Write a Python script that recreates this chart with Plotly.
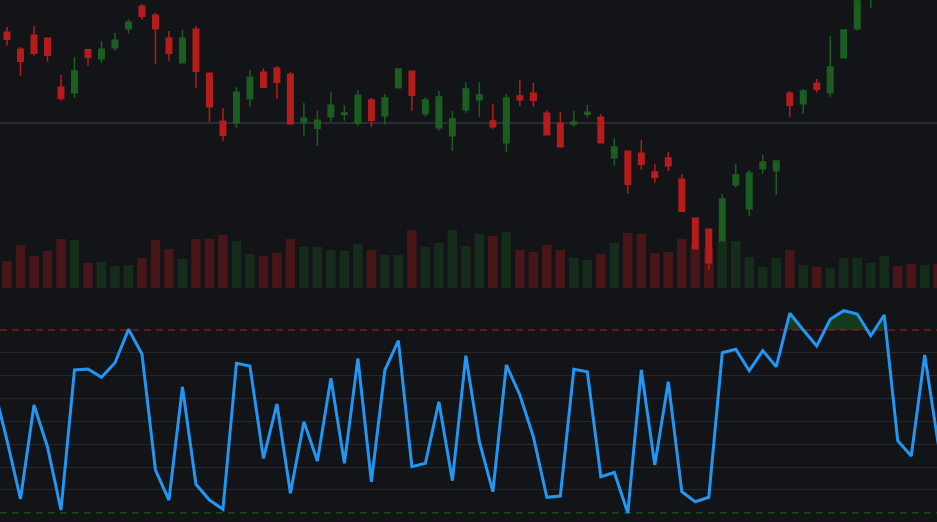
import numpy as np
import plotly.graph_objects as go

# ---------------- data ----------------
idx = list(range(70))

opens = [109.10, 107.40, 108.80, 108.50, 103.60, 103.06, 107.36, 106.46, 107.56, 109.46,
         111.70, 110.80, 108.50, 106.06, 109.40, 105.00, 100.20, 100.06, 102.46, 105.10,
         105.50, 104.90, 100.10, 99.50, 100.66, 100.90, 100.00, 102.33, 100.76, 103.56,
         105.20, 100.96, 99.56, 98.76, 101.36, 102.36, 100.23, 98.06, 102.73, 103.00,
         101.00, 100.00, 99.90, 100.90, 100.60, 96.56, 97.20, 97.00, 95.13, 96.53,
         94.40, 90.50, 89.40, 88.26, 93.86, 91.46, 95.46, 95.26, 103.00, 101.96,
         104.00, 103.06, 106.56, 109.46, 113.03, 115.50, 118.20, 117.20, 116.30, 117.50]
highs = [109.63, 107.63, 109.73, 108.53, 104.83, 106.63, 107.40, 108.23, 109.03, 110.43,
         111.93, 111.03, 109.23, 109.33, 109.73, 105.03, 101.53, 103.60, 105.33, 105.50,
         105.73, 105.13, 102.03, 101.23, 103.13, 101.80, 103.33, 102.53, 102.93, 105.43,
         105.20, 102.60, 103.23, 101.23, 104.13, 104.13, 101.93, 102.93, 104.33, 104.03,
         101.33, 101.13, 101.23, 101.83, 100.93, 98.53, 97.23, 98.33, 95.93, 97.13,
         94.93, 90.50, 89.40, 92.93, 95.93, 95.33, 96.83, 96.30, 103.23, 103.43,
         104.43, 108.73, 109.33, 112.63, 116.00, 118.50, 118.80, 117.80, 118.10, 118.00]
lows = [107.76, 104.76, 106.76, 106.16, 102.26, 102.56, 105.76, 106.06, 107.26, 108.96,
        110.36, 105.96, 106.26, 106.06, 103.56, 100.16, 98.26, 99.56, 101.66, 103.60,
        102.46, 99.86, 98.76, 97.76, 100.16, 100.26, 99.76, 99.66, 99.86, 103.56,
        101.26, 100.66, 99.26, 97.26, 101.06, 100.66, 99.46, 97.16, 101.76, 101.66,
        98.86, 97.56, 99.66, 100.56, 98.06, 95.76, 92.96, 95.36, 94.06, 95.23,
        91.20, 87.43, 85.33, 88.23, 93.56, 90.76, 94.96, 92.86, 100.66, 100.96,
        103.06, 102.66, 106.56, 109.26, 111.56, 115.00, 116.50, 115.60, 115.90, 116.00]
closes = [108.40, 106.20, 107.00, 106.80, 102.50, 105.23, 106.60, 107.40, 108.30, 110.10,
          110.70, 109.46, 107.00, 108.50, 105.20, 101.66, 98.80, 103.10, 104.60, 103.60,
          104.10, 99.96, 100.50, 100.30, 101.80, 101.03, 102.80, 100.30, 102.53, 105.43,
          102.80, 102.33, 102.63, 100.43, 103.43, 102.83, 99.66, 102.53, 102.36, 102.30,
          98.86, 97.66, 100.13, 101.10, 98.06, 97.63, 93.90, 95.90, 94.60, 95.76,
          91.20, 87.46, 86.06, 92.43, 94.83, 95.03, 96.13, 96.23, 101.80, 103.23,
          103.40, 105.63, 109.33, 112.23, 115.63, 118.00, 117.00, 116.20, 117.60, 116.40]
volume = [2.7, 4.3, 3.2, 3.7, 4.9, 4.8, 2.5, 2.6, 2.2, 2.3,
          3.0, 4.8, 3.9, 2.9, 4.9, 4.9, 5.3, 4.7, 3.4, 3.2,
          3.5, 4.9, 4.1, 4.1, 3.8, 3.7, 4.4, 3.8, 3.3, 3.3,
          5.8, 4.1, 4.5, 5.8, 4.2, 5.4, 5.2, 5.6, 3.8, 3.6,
          4.3, 3.8, 3.0, 2.8, 3.4, 4.5, 5.5, 5.4, 3.5, 3.6,
          4.9, 4.3, 4.0, 4.7, 4.7, 3.1, 2.1, 3.0, 3.8, 2.3,
          2.1, 2.0, 3.0, 3.0, 2.5, 3.2, 2.2, 2.4, 2.3, 2.4]

rsi_x = list(range(-1, 70))
rsi = [57.80, 45.85, 32.99, 53.58, 44.38, 30.58, 61.24, 61.46, 59.64, 62.84, 70.15,
       64.74, 39.34, 32.77, 57.52, 36.21, 32.77, 30.74, 62.71, 62.12, 41.91,
       53.80, 34.24, 49.92, 41.31, 59.42, 40.81, 63.80, 36.78, 61.24, 67.66,
       40.07, 40.81, 54.30, 37.00, 64.37, 45.54, 34.59, 62.34, 55.77, 46.64,
       33.37, 33.65, 61.39, 60.87, 37.88, 38.80, 29.93, 61.24, 40.44, 58.68,
       34.59, 32.40, 33.37, 65.03, 65.77, 61.09, 65.47, 61.96, 73.66, 70.00,
       66.50, 72.34, 74.23, 73.50, 68.75, 73.28, 45.76, 42.41, 64.53, 45.04]

OVERBOUGHT = 70
OVERSOLD = 30
PRICE_GRID = [100]
RSI_GRID = [35, 40, 45, 50, 55, 60, 65]

# ---------------- styles ----------------
BG = "#131418"
UP = "#1b5e20"
DOWN = "#b71c1c"
UP_VOL = "rgba(27,94,32,0.33)"
DOWN_VOL = "rgba(183,28,28,0.33)"
LINE = "#2196f3"
GRID = "#25272b"

vol_colors = [UP_VOL if c >= o else DOWN_VOL for o, c in zip(opens, closes)]


def band(xs, ys, level, above=True):
    """Return x, y of the line clipped to one side of level (with crossings)."""
    ox, oy = [], []
    for i in range(len(xs)):
        if i > 0:
            y0, y1 = ys[i - 1], ys[i]
            if (y0 - level) * (y1 - level) < 0:
                t = (level - y0) / (y1 - y0)
                ox.append(xs[i - 1] + t * (xs[i] - xs[i - 1]))
                oy.append(level)
        ox.append(xs[i])
        oy.append(max(ys[i], level) if above else min(ys[i], level))
    return ox, oy


fig = go.Figure()

fig.add_trace(go.Bar(x=idx, y=volume, marker=dict(color=vol_colors, line=dict(width=0)),
                     width=0.7, xaxis="x", yaxis="y", hoverinfo="skip"))

fig.add_trace(go.Candlestick(
    x=idx, open=opens, high=highs, low=lows, close=closes,
    xaxis="x", yaxis="y2",
    increasing=dict(line=dict(color=UP, width=1.5), fillcolor=UP),
    decreasing=dict(line=dict(color=DOWN, width=1.5), fillcolor=DOWN),
    whiskerwidth=0,
))

# overbought / oversold fills
obx, oby = band(rsi_x, rsi, OVERBOUGHT, above=True)
fig.add_trace(go.Scatter(x=obx, y=[OVERBOUGHT] * len(obx), mode="lines",
                         line=dict(width=0), xaxis="x2", yaxis="y3", hoverinfo="skip"))
fig.add_trace(go.Scatter(x=obx, y=oby, mode="lines", line=dict(width=0), fill="tonexty",
                         fillcolor="rgba(27,94,32,0.5)", xaxis="x2", yaxis="y3",
                         hoverinfo="skip"))
osx, osy = band(rsi_x, rsi, OVERSOLD, above=False)
fig.add_trace(go.Scatter(x=osx, y=[OVERSOLD] * len(osx), mode="lines",
                         line=dict(width=0), xaxis="x2", yaxis="y3", hoverinfo="skip"))
fig.add_trace(go.Scatter(x=osx, y=osy, mode="lines", line=dict(width=0), fill="tonexty",
                         fillcolor="rgba(183,28,28,0.5)", xaxis="x2", yaxis="y3",
                         hoverinfo="skip"))

fig.add_trace(go.Scatter(x=rsi_x, y=rsi, mode="lines", line=dict(color=LINE, width=3),
                         xaxis="x2", yaxis="y3"))

for lvl, col in [(OVERBOUGHT, "rgba(183,28,28,0.65)"), (OVERSOLD, "rgba(27,94,32,0.7)")]:
    fig.add_shape(type="line", xref="paper", x0=0, x1=1, yref="y3", y0=lvl, y1=lvl,
                  line=dict(color=col, width=1.5, dash="7px,5px"), layer="below")

XR = [-0.519, 68.91]
H = 522
top_dom = [1 - 288 / H, 1]
bot_dom = [0, (H - 300) / H]

fig.update_layout(
    width=937, height=522,
    margin=dict(l=0, r=0, t=0, b=0),
    paper_bgcolor=BG, plot_bgcolor=BG,
    showlegend=False,
    boxgap=0.42,
    xaxis=dict(range=XR, domain=[0, 1], anchor="y", showgrid=False, zeroline=False,
               showticklabels=False, showline=False, rangeslider=dict(visible=False)),
    xaxis2=dict(range=XR, domain=[0, 1], anchor="y3", showgrid=False, zeroline=False,
                showticklabels=False, showline=False),
    yaxis=dict(domain=top_dom, range=[0, 28.8], showgrid=False, zeroline=False,
               showticklabels=False),
    yaxis2=dict(overlaying="y", range=[83.53, 112.33], tickvals=PRICE_GRID,
                gridcolor="#2a2c30", gridwidth=1.5, zeroline=False, showticklabels=False),
    yaxis3=dict(domain=bot_dom, range=[27.96, 76.57], tickvals=RSI_GRID,
                gridcolor=GRID, gridwidth=1, zeroline=False, showticklabels=False),
)

fig.write_html(
    "out.html",
    config={"displayModeBar": False},
    post_script=(
        "document.body.style.margin='0';"
        "document.body.style.padding='0';"
        "document.body.style.overflow='hidden';"
        "document.body.style.background='" + BG + "';"
    ),
)
